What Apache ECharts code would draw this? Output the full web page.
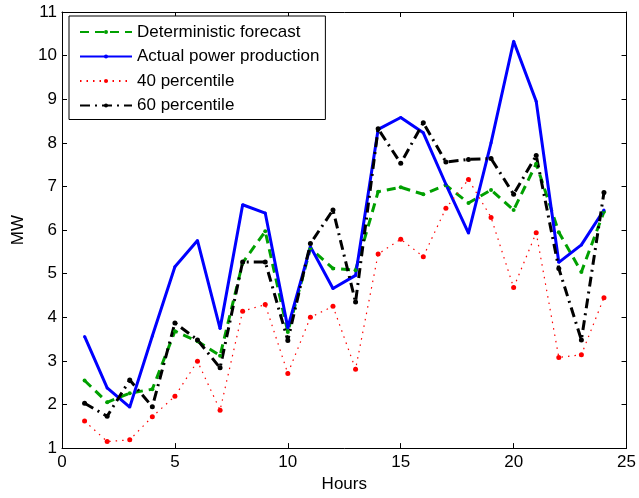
<!DOCTYPE html>
<html>
<head>
<meta charset="utf-8">
<script src="https://cdn.jsdelivr.net/npm/echarts@6/dist/echarts.min.js"></script>
<style>
html,body{margin:0;padding:0;background:#fff;}
#c{width:639px;height:498px;}
</style>
</head>
<body>
<div id="c"></div>
<script>
const hours = [1,2,3,4,5,6,7,8,9,10,11,12,13,14,15,16,17,18,19,20,21,22,23,24];
const deterministic = [2.55,2.05,2.26,2.35,3.68,3.45,3.12,5.25,5.97,3.66,5.58,5.12,5.08,6.88,6.98,6.82,7.03,6.62,6.92,6.46,7.52,5.95,5.04,6.42];
const actual = [3.56,2.38,1.94,3.57,5.16,5.76,3.74,6.58,6.39,3.76,5.62,4.66,4.96,8.31,8.58,8.23,7.05,5.93,8.0,10.33,8.95,5.26,5.66,6.46];
const p40 = [1.62,1.15,1.19,1.72,2.19,2.99,1.87,4.14,4.29,2.71,4.0,4.25,2.81,5.45,5.79,5.39,6.5,7.16,6.29,4.68,5.94,3.08,3.14,4.45];
const p60 = [2.03,1.73,2.56,1.95,3.87,3.48,2.84,5.27,5.27,3.47,5.69,6.46,4.35,8.32,7.53,8.46,7.56,7.62,7.64,6.82,7.71,5.12,3.48,6.86];
const xTicks = {min:0,max:25,interval:5};
const yTicks = {min:1,max:11,interval:1};
const names = ['Deterministic forecast','Actual power production','40 percentile','60 percentile'];

function pairs(arr){ return hours.map((h,i)=>[h,arr[i]]); }

const font = 'Liberation Sans, Arial, Helvetica, sans-serif';
const fs = 17;
const chart = echarts.init(document.getElementById('c'), null, {renderer:'canvas'});
const axisLine = {show:true, onZero:false, lineStyle:{color:'#000', width:1}};
const tick = {show:true, inside:true, length:5, lineStyle:{color:'#000', width:1}};

chart.setOption({
  animation:false,
  backgroundColor:'#fff',
  textStyle:{fontFamily:font},
  grid:{left:62, right:11, top:12, bottom:48, containLabel:false},
  legend:{
    orient:'vertical', left:69, top:16,
    data:names,
    itemWidth:52, itemHeight:5, itemGap:7.5,
    padding:[7.5,6,5.5,10],
    backgroundColor:'#fff', borderColor:'#000', borderWidth:1,
    textStyle:{fontSize:fs, color:'#000', fontFamily:font},
    selectedMode:false
  },
  xAxis:[
    {type:'value', min:xTicks.min, max:xTicks.max, interval:xTicks.interval, position:'bottom',
     name:'Hours', nameLocation:'middle', nameGap:27, nameTextStyle:{fontSize:fs,color:'#000'},
     axisLine:axisLine, axisTick:tick, splitLine:{show:false},
     axisLabel:{fontSize:fs, color:'#000', margin:6}},
    {type:'value', min:xTicks.min, max:xTicks.max, interval:xTicks.interval, position:'top',
     axisLine:axisLine, axisTick:tick, splitLine:{show:false}, axisLabel:{show:false}}
  ],
  yAxis:[
    {type:'value', min:yTicks.min, max:yTicks.max, interval:yTicks.interval, position:'left',
     name:'MW', nameLocation:'middle', nameGap:34, nameRotate:90, nameTextStyle:{fontSize:fs,color:'#000'},
     axisLine:axisLine, axisTick:tick, splitLine:{show:false},
     axisLabel:{fontSize:fs, color:'#000', margin:5}},
    {type:'value', min:yTicks.min, max:yTicks.max, interval:yTicks.interval, position:'right',
     axisLine:axisLine, axisTick:tick, splitLine:{show:false}, axisLabel:{show:false}}
  ],
  series:[
    {name:names[0], type:'line', data:pairs(deterministic), symbol:'circle', symbolSize:4,
     itemStyle:{color:'#00a000'}, lineStyle:{color:'#00a000', width:3, type:[9,6]}},
    {name:names[1], type:'line', data:pairs(actual), symbol:'circle', symbolSize:3,
     itemStyle:{color:'#0000ff'}, lineStyle:{color:'#0000ff', width:3}},
    {name:names[2], type:'line', data:pairs(p40), symbol:'circle', symbolSize:5,
     itemStyle:{color:'#ff0000'}, lineStyle:{color:'#ff0000', width:1.2, type:[1.5,5]}},
    {name:names[3], type:'line', data:pairs(p60), symbol:'circle', symbolSize:5,
     itemStyle:{color:'#000'}, lineStyle:{color:'#000', width:3, type:[10,5,2,5]}}
  ]
});
</script>
</body>
</html>
